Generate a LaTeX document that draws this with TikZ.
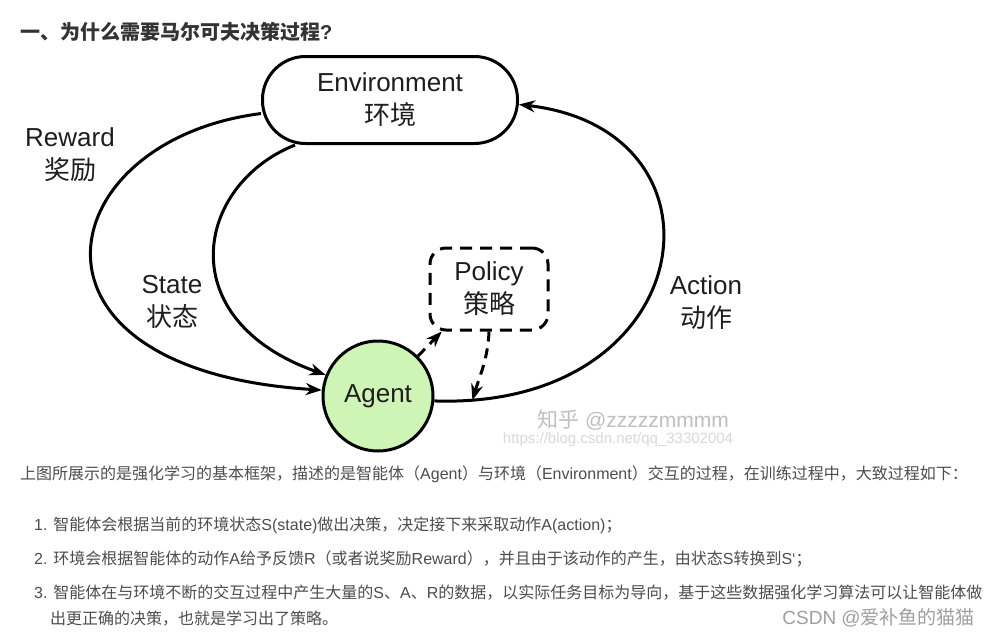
\documentclass[tikz,border=0pt]{standalone}
\usepackage{fontspec}
\setmainfont{Liberation Sans}
\newfontfamily\cjk{Noto Sans CJK SC}
\usetikzlibrary{arrows.meta}
\newcommand\zh[1]{{\cjk #1}}
\definecolor{agentgreen}{RGB}{206,245,181}
\definecolor{bodygray}{RGB}{77,77,77}
\definecolor{inkgray}{RGB}{30,30,30}

\begin{document}
\begin{tikzpicture}[x=1pt, y=-1pt]
  \tikzset{
    diag/.style={font=\fontsize{26}{33}\selectfont, text=inkgray, align=center},
    envbox/.style={diag, draw, line width=3pt, rounded corners=43pt, minimum width=255pt, minimum height=87pt, inner sep=0pt},
    agentnd/.style={diag, draw, circle, line width=3pt, fill=agentgreen, minimum size=110pt, inner sep=0pt},
    polbox/.style={diag, draw, line width=3pt, rounded corners=16pt, dash pattern=on 12pt off 8pt, minimum width=118pt, minimum height=82pt, inner sep=0pt},
    flow/.style={-{Stealth[length=16pt, width=12pt]}, line width=3pt},
    dflow/.style={flow, dash pattern=on 10pt off 7pt},
    body/.style={font=\fontsize{16}{20}\selectfont, text=bodygray, anchor=base west, inner sep=0pt},
  }

  \fill[white] (0,0) rectangle (990,637);
  \useasboundingbox (0,0) rectangle (990,637);

  % title
  \node[anchor=base west, inner sep=0pt, font=\fontsize{20}{24}\selectfont\bfseries, text=black!80] (title) at (20,39) {\zh{一、为什么需要马尔可夫决策过程}?};

  % diagram
  \node[envbox] (env) at (390,100) {Environment\\\zh{环境}};
  \node[agentnd] (agent) at (378,396) {Agent};
  \node[polbox] (policy) at (489,289) {Policy\\\zh{策略}};

  \foreach \nm/\x/\y/\en/\cn in {rew/70/155/Reward/奖励, sta/172/302/State/状态, act/706/303/Action/动作}
    \node[diag] (\nm) at (\x,\y) {\en\\\zh{\cn}};

  \draw[flow] (env.186) .. controls (50,140) and (0,370) .. (agent.174);
  \draw[flow] ([xshift=-95pt]env.south) .. controls (195,185) and (170,320) .. (agent.158);
  \draw[flow] (agent.-5) .. controls (700,410) and (740,130) .. (env.358) coordinate[pos=0.05] (acttip);

  \draw[dflow] (agent.45) -- (policy.222);
  \draw[dflow] (policy.south) .. controls (488,358) and (480,375) .. (acttip);

  % watermark
  \node[font=\fontsize{15}{18}\selectfont, text=gray!30] (url) at (618,440) {https://blog.csdn.net/qq\_33302004};
  \node[font=\fontsize{21}{24}\selectfont, text=gray!50] (zhihu) at (633,420) {\zh{知乎} @zzzzzmmmm};

  % text below
  \node[body] (intro) at (20,479) {\zh{上图所展示的是强化学习的基本框架，描述的是智能体（}Agent\zh{）与环境（}Environment\zh{）交互的过程，在训练过程中，大致过程如下：}};
  \foreach \nm/\y/\txt in {
    it1/530/{1. \zh{智能体会根据当前的环境状态}S(state)\zh{做出决策，决定接下来采取动作}A(action)\zh{；}},
    it2/564/{2. \zh{环境会根据智能体的动作}A\zh{给予反馈}R\zh{（或者说奖励}Reward\zh{），并且由于该动作的产生，由状态}S\zh{转换到}S‘\zh{；}},
    it3/598/{3. \zh{智能体在与环境不断的交互过程中产生大量的}S\zh{、}A\zh{、}R\zh{的数据，以实际任务目标为导向，基于这些数据强化学习算法可以让智能体做}}
  }
    \node[body] (\nm) at (34,\y) {\txt};
  \node[body] (it3b) at (50,624) {\zh{出更正确的决策，也就是学习出了策略。}};
  \node[body, anchor=base east, font=\fontsize{19}{22}\selectfont, text=gray!75] (csdn) at (975,624) {CSDN @\zh{爱补鱼的猫猫}};
\end{tikzpicture}
\end{document}
